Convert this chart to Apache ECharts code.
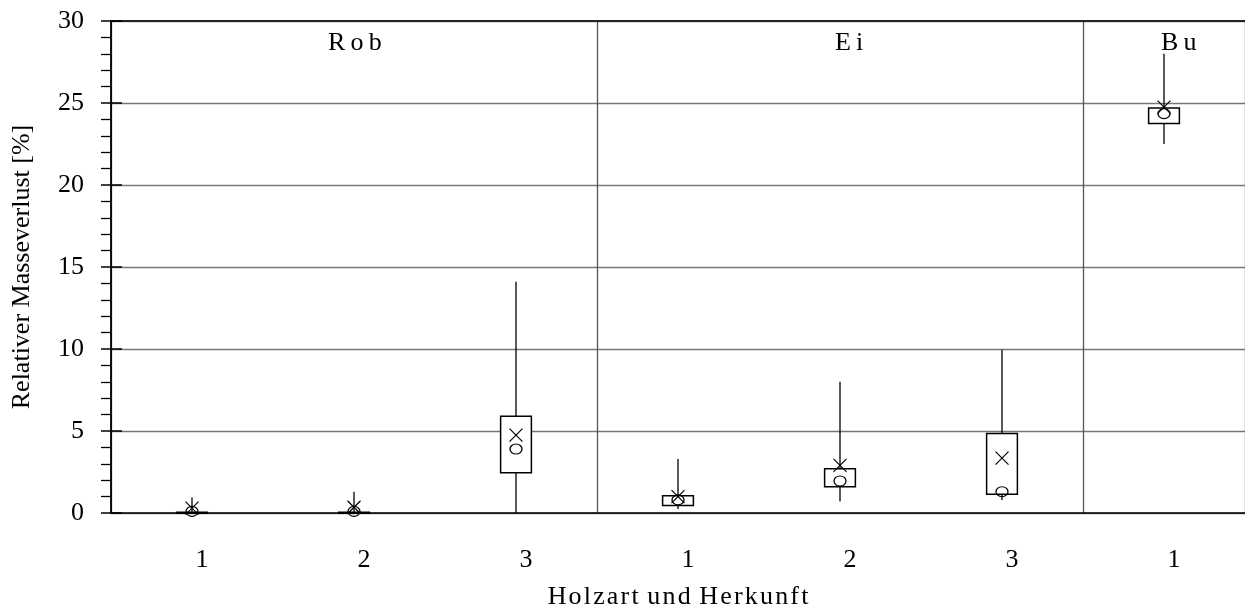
<!DOCTYPE html>
<html>
<head>
<meta charset="utf-8">
<script src="https://cdn.jsdelivr.net/npm/echarts@6/dist/echarts.min.js"></script>
<style>
  html, body { margin: 0; padding: 0; background: #fff; }
  #chart { width: 1245px; height: 616px; }
</style>
</head>
<body>
<div id="chart"></div>
<script>
// Holzart / Herkunft, Masseverlust in %
var categories = ['1', '2', '3', '1', '2', '3', '1'];
var minVals    = [0,    0,    0,    0.25, 0.7,  0.8,  22.5];
var q1Vals     = [0,    0,    2.45, 0.45, 1.6,  1.15, 23.75];
var q3Vals     = [0.05, 0.05, 5.9,  1.05, 2.7,  4.85, 24.7];
var maxVals    = [0.95, 1.3,  14.1, 3.3,  8.0,  9.95, 28.0];
var meanVals   = [0.3,  0.35, 4.75, 1.0,  2.9,  3.35, 24.75];
var medianVals = [0.1,  0.1,  3.9,  0.8,  1.95, 1.3,  24.35];
var groups     = ['R\u2009o\u2009b', 'E\u2009i', 'B\u2009u'];

var font = 'Liberation Serif';

var boxData = [], meanData = [], medianData = [];
for (var i = 0; i < categories.length; i++) {
    boxData.push([i, minVals[i], q1Vals[i], q3Vals[i], maxVals[i]]);
    meanData.push([i, meanVals[i]]);
    medianData.push([i, medianVals[i]]);
}

var myChart = echarts.init(document.getElementById('chart'));

var groupStyle = function (txt) {
    return { text: txt, font: '26px "Liberation Serif"', fill: '#000' };
};

var option = {
    animation: false,
    grid: { left: 111, right: 0, top: 21, bottom: 103 },
    xAxis: [
        {
            type: 'category',
            data: categories,
            name: 'H\u200Ao\u200Al\u200Az\u200Aa\u200Ar\u200At \u200Au\u200An\u200Ad \u200AH\u200Ae\u200Ar\u200Ak\u200Au\u200An\u200Af\u200At',
            nameLocation: 'middle',
            nameGap: 71,
            nameTextStyle: { fontFamily: font, fontSize: 26, color: '#000' },
            axisLine: { lineStyle: { color: '#000', width: 1.5 } },
            axisTick: {
                length: 10,
                interval: function (idx) { return idx % 3 === 0; },
                lineStyle: { color: '#000', width: 1.5 }
            },
            splitLine: {
                show: true,
                interval: function (idx) { return idx % 3 === 0; },
                lineStyle: { color: '#555', width: 1.3 }
            },
            axisLabel: {
                fontFamily: font, fontSize: 26, color: '#000',
                margin: 34, padding: [0, 0, 0, 20]
            }
        },
        {
            type: 'category',
            data: categories,
            position: 'bottom',
            axisLine: { show: false },
            axisTick: {
                inside: true, length: 10,
                interval: function (idx) { return idx % 3 === 0; },
                lineStyle: { color: '#000', width: 1.5 }
            },
            axisLabel: { show: false },
            splitLine: { show: false }
        },
        {
            type: 'category',
            data: categories,
            position: 'top',
            axisLine: { lineStyle: { color: '#222', width: 2 } },
            axisTick: { show: false },
            axisLabel: { show: false },
            splitLine: { show: false }
        }
    ],
    yAxis: [
        {
            type: 'value',
            min: 0, max: 30, interval: 5,
            name: 'Relativer Masseverlust [%]',
            nameLocation: 'middle',
            nameGap: 76,
            nameTextStyle: { fontFamily: font, fontSize: 26, color: '#000' },
            axisLine: { show: true, lineStyle: { color: '#000', width: 1.8 } },
            axisTick: { show: true, length: 10, lineStyle: { color: '#000', width: 1.5 } },
            minorTick: { show: true, splitNumber: 5, length: 10, lineStyle: { color: '#000', width: 1.3 } },
            splitLine: { lineStyle: { color: '#777', width: 1.3 } },
            axisLabel: { fontFamily: font, fontSize: 26, color: '#000', margin: 27 }
        },
        {
            type: 'value',
            min: 0, max: 30, interval: 5,
            position: 'left',
            axisLine: { show: false },
            axisTick: { show: true, inside: true, length: 11, lineStyle: { color: '#000', width: 1.5 } },
            axisLabel: { show: false },
            splitLine: { show: false }
        }
    ],
    graphic: [
        { type: 'text', left: 328, top: 30, style: groupStyle(groups[0]) },
        { type: 'text', left: 835, top: 30, style: groupStyle(groups[1]) },
        { type: 'text', left: 1161, top: 30, style: groupStyle(groups[2]) }
    ],
    series: [
        {
            type: 'custom',
            xAxisIndex: 0,
            yAxisIndex: 0,
            data: boxData,
            renderItem: function (params, api) {
                var idx = api.value(0);
                var pMin = api.coord([idx, api.value(1)]);
                var pQ1 = api.coord([idx, api.value(2)]);
                var pQ3 = api.coord([idx, api.value(3)]);
                var pMax = api.coord([idx, api.value(4)]);
                var w = api.size([1, 0])[0] * 0.19;
                return {
                    type: 'group',
                    children: [
                        {
                            type: 'line',
                            shape: { x1: pMin[0], y1: pMax[1], x2: pMin[0], y2: pMin[1] },
                            style: { stroke: '#000', lineWidth: 1.3 }
                        },
                        {
                            type: 'rect',
                            shape: { x: pQ1[0] - w / 2, y: pQ3[1], width: w, height: Math.max(pQ1[1] - pQ3[1], 0.5) },
                            style: { fill: '#fff', stroke: '#000', lineWidth: 1.5 }
                        }
                    ]
                };
            }
        },
        {
            name: 'Median',
            type: 'scatter',
            data: medianData,
            symbol: 'circle',
            symbolSize: [12, 10],
            itemStyle: { color: 'transparent', borderColor: '#000', borderWidth: 1.2, opacity: 1 }
        },
        {
            name: 'Mittelwert',
            type: 'scatter',
            data: meanData,
            symbol: 'path://M0,0L10,10M10,0L0,10',
            symbolSize: 13,
            itemStyle: { color: 'transparent', borderColor: '#000', borderWidth: 1.2, opacity: 1 }
        }
    ]
};

myChart.setOption(option);
</script>
</body>
</html>
